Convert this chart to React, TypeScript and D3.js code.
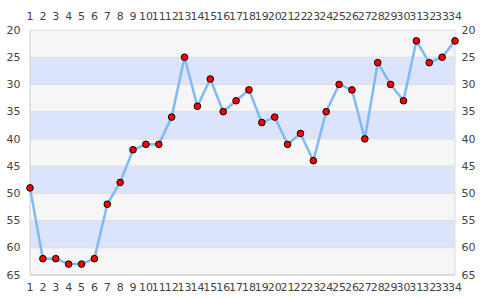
import React from "react";
import * as d3 from "d3";

const categories = [1,2,3,4,5,6,7,8,9,10,11,12,13,14,15,16,17,18,19,20,21,22,23,24,25,26,27,28,29,30,31,32,33,34];
const values = [49,62,62,63,63,62,52,48,42,41,41,36,25,34,29,35,33,31,37,36,41,39,44,35,30,31,40,26,30,33,22,26,25,22];
const yTicks = [20,25,30,35,40,45,50,55,60,65];

const W = 485, H = 300;
const L = 30, R = 455, T = 30, B = 275;

export default function App() {
  const x = d3.scaleLinear().domain([1, 34]).range([L, R]);
  const y = d3.scaleLinear().domain([20, 65]).range([T, B]);
  const line = d3.line<number>().x((_, i) => x(categories[i])).y(d => y(d));
  const bands = yTicks.slice(0, -1);
  const font = "DejaVu Sans, sans-serif";
  return (
    <svg width={W} height={H} style={{ position: "absolute", left: 0, top: 0 }}>
      <rect x={0} y={0} width={W} height={H} fill="#fff" />
      {bands.map((v, i) => (
        <rect key={v} x={L} y={y(v)} width={R - L} height={y(v + 5) - y(v)} fill={i % 2 === 0 ? "#f6f6f6" : "#dce4fc"} />
      ))}
      {yTicks.map(v => (
        <line key={v} x1={L} x2={R} y1={y(v)} y2={y(v)} stroke="#dddddd" strokeWidth={1} />
      ))}
      <line x1={L} x2={L} y1={T} y2={B} stroke="#cccccc" />
      <line x1={R} x2={R} y1={T} y2={B} stroke="#dddddd" />
      <line x1={L} x2={R} y1={B} y2={B} stroke="#cccccc" />
      {yTicks.map(v => (
        <text key={"l" + v} x={20.5} y={y(v)} dy="0.33em" textAnchor="end" fontFamily={font} fontSize={11} fill="#444">{v}</text>
      ))}
      {yTicks.map(v => (
        <text key={"r" + v} x={461.5} y={y(v)} dy="0.33em" textAnchor="start" fontFamily={font} fontSize={11} fill="#444">{v}</text>
      ))}
      {categories.map(c => (
        <text key={"t" + c} x={x(c)} y={16} dy="0.35em" textAnchor="middle" fontFamily={font} fontSize={11} fill="#444">{c}</text>
      ))}
      {categories.map(c => (
        <text key={"b" + c} x={x(c)} y={287} dy="0.35em" textAnchor="middle" fontFamily={font} fontSize={11} fill="#444">{c}</text>
      ))}
      <path d={line(values) || ""} fill="none" stroke="#7fbaf5" strokeWidth={2.5} strokeLinejoin="round" />
      {values.map((v, i) => (
        <circle key={i} cx={x(categories[i])} cy={y(v)} r={3.3} fill="#ff0000" stroke="#000" strokeWidth={1} />
      ))}
    </svg>
  );
}
